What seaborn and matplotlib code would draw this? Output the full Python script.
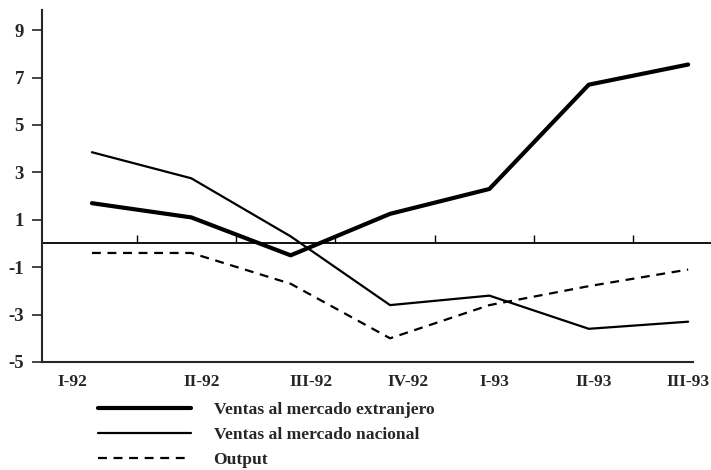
import matplotlib
matplotlib.use("Agg")
import matplotlib.pyplot as plt
import numpy as np
import pandas as pd
import seaborn as sns

# ── Data ──────────────────────────────────────────────────────────────────────
quarters = ["I-92", "II-92", "III-92", "IV-92", "I-93", "II-93", "III-93"]
ventas_extranjero = [1.7, 1.1, -0.5, 1.25, 2.3, 6.7, 7.55]
ventas_nacional = [3.85, 2.75, 0.3, -2.6, -2.2, -3.6, -3.3]
output = [-0.4, -0.4, -1.7, -4.0, -2.6, -1.8, -1.1]
y_ticks = [-5, -3, -1, 1, 3, 5, 7, 9]

series_names = [
    "Ventas al mercado extranjero",
    "Ventas al mercado nacional",
    "Output",
]

# ── Style ─────────────────────────────────────────────────────────────────────
sns.set_style("white")
plt.rcParams["font.family"] = ["Liberation Serif", "DejaVu Serif"]
plt.rcParams["font.weight"] = "bold"
plt.rcParams["axes.unicode_minus"] = False

styles = {
    series_names[0]: dict(lw=3.0, ls="-"),
    series_names[1]: dict(lw=1.6, ls="-"),
    series_names[2]: dict(lw=1.6, ls=(0, (4, 3))),
}
# the printed labels sit a little off the data points in the original
label_shift = [-0.2, 0.1, 0.2, 0.18, 0.05, 0.05, 0.0]

fig = plt.figure(figsize=(7.11, 4.70), dpi=100)
ax = fig.add_axes([0.059, 0.2298, 0.941, 0.7489])

xpos = np.arange(len(quarters))
df = pd.DataFrame({
    "x": np.tile(xpos, 3),
    "value": ventas_extranjero + ventas_nacional + output,
    "serie": np.repeat(series_names, len(quarters)),
})

for name in series_names:
    sub = df[df["serie"] == name]
    st = styles[name]
    sns.lineplot(data=sub, x="x", y="value", ax=ax, color="black",
                 linewidth=st["lw"], linestyle=st["ls"], label=name,
                 legend=False)

# zero reference line with small upward ticks between quarters
ax.axhline(0, color="black", lw=1.3, zorder=1)
mids = xpos[:-1] + 0.45
ax.vlines(mids, 0, 0.35, color="black", lw=1.0)

ax.set_xlim(-0.503, 6.23)
ax.set_ylim(-5, 9.85)
ax.set_yticks(y_ticks)
ax.set_yticklabels([str(v) for v in y_ticks], fontsize=13.5, fontweight="bold")
ax.set_xticks(xpos + np.array(label_shift))
ax.set_xticklabels(quarters, fontsize=12.5, fontweight="bold")
ax.tick_params(axis="x", length=0, pad=9)
ax.tick_params(axis="y", length=7, width=1.2, pad=6, direction="out", left=True)
ax.set_xlabel("")
ax.set_ylabel("")

for side in ["top", "right"]:
    ax.spines[side].set_visible(False)
ax.spines["left"].set_linewidth(1.5)
ax.spines["bottom"].set_linewidth(1.5)
ax.spines["bottom"].set_bounds(-0.503, 6.05)

handles = [
    plt.Line2D([], [], color="black", lw=styles[n]["lw"], ls=styles[n]["ls"])
    for n in series_names
]
fig.legend(handles, series_names, loc="upper left",
           bbox_to_anchor=(98 / 711, 1 - 402 / 470), frameon=False,
           prop={"family": "Liberation Serif", "weight": "bold", "size": 12.6},
           handlelength=5.3, handletextpad=1.3, labelspacing=0.5,
           borderpad=0, borderaxespad=0)

fig.savefig("out.png", dpi=100)
